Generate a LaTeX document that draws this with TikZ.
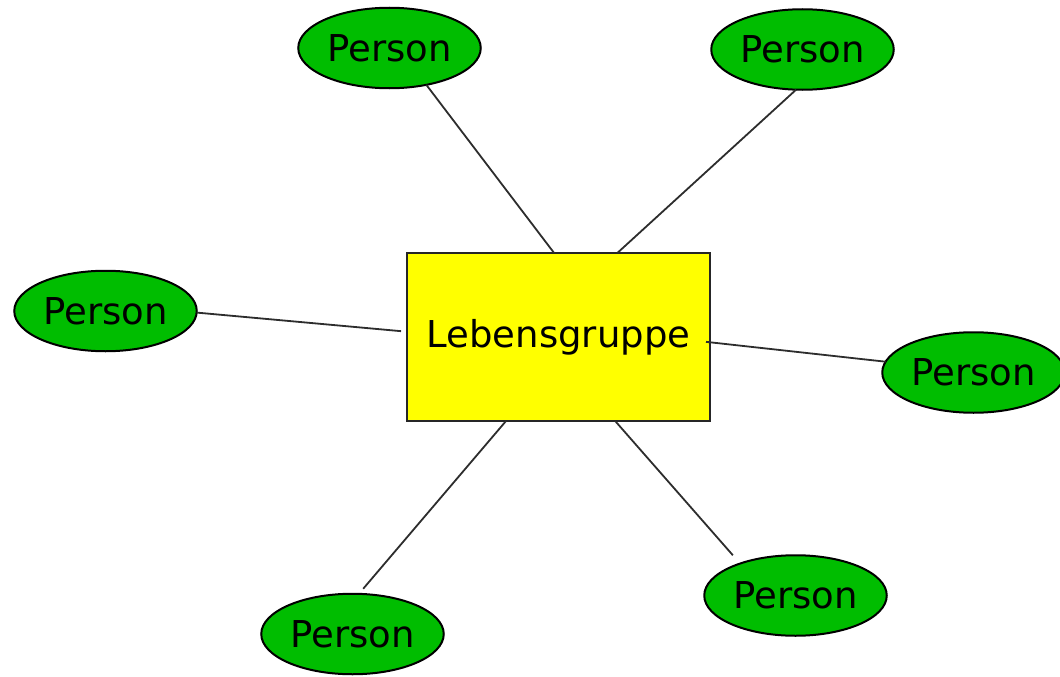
\documentclass[tikz,border=0pt]{standalone}
\usepackage{fontspec}
\setmainfont{DejaVu Sans}
\usetikzlibrary{shapes.geometric}
\definecolor{persongreen}{RGB}{0,189,0}
\definecolor{groupyellow}{RGB}{255,255,0}
\definecolor{linegray}{RGB}{45,45,45}
\tikzset{
  person/.style={ellipse, draw=black, line width=2pt, fill=persongreen,
    minimum width=182.5pt, minimum height=80.5pt, inner sep=0pt, outer sep=0pt,
    font=\fontsize{37}{44}\selectfont},
  group/.style={rectangle, draw=black!85, line width=2pt, fill=groupyellow,
    minimum width=303pt, minimum height=168pt, inner sep=0pt, outer sep=0pt,
    font=\fontsize{37}{44}\selectfont},
  link/.style={draw=linegray, line width=1.8pt}
}
\begin{document}
\begin{tikzpicture}[x=1pt,y=-1pt]
\clip (0,0) rectangle (1060,677);
\node[group] (r) at (558.5,337) {Lebensgruppe};
\node[person] (tl) at (389.5,48) {Person};
\node[person] (tr) at (802.5,49.5) {Person};
\node[person] (l) at (105.5,311) {Person};
\node[person] (re) at (973.5,372.5) {Person};
\node[person] (bl) at (352.5,634) {Person};
\node[person] (br) at (795.5,595.5) {Person};
\draw[link] (tl.-45.5) -- (r.93);
\draw[link] (tr.-99) -- (r.55);
\draw[link, shorten >=6pt] (l.-1) -- (r.178);
\draw[link, shorten <=-4pt] (r.-2.3) -- (re.173);
\draw[link, shorten <=6.7pt] (bl.81) -- (r.-122.5);
\draw[link, shorten <=11pt] (br.150) -- (r.-56.5);
\end{tikzpicture}
\end{document}
